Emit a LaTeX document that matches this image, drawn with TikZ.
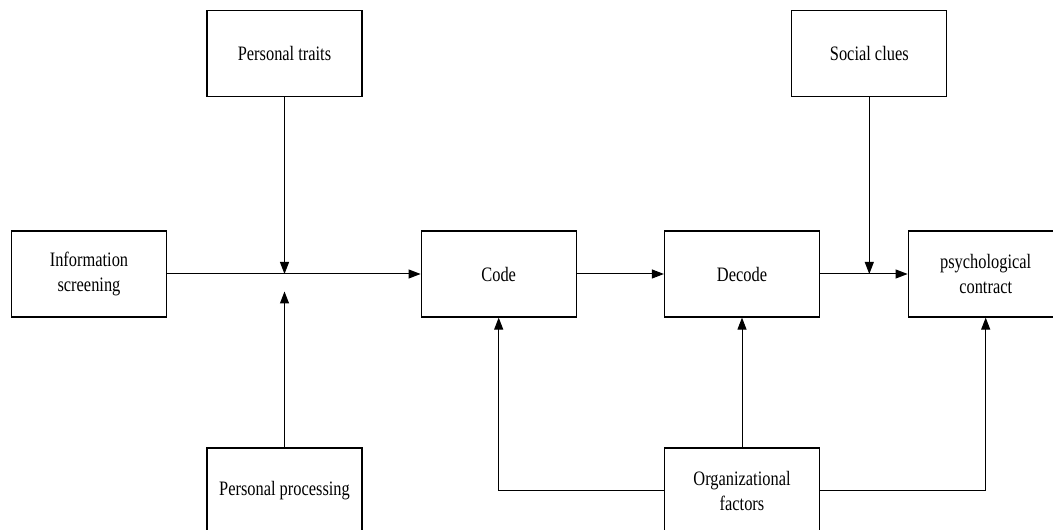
\documentclass[tikz,border=0pt]{standalone}
\usepackage{fontspec}
\setmainfont[FakeStretch=0.8]{Liberation Serif}
\usetikzlibrary{arrows.meta}

\tikzset{
	box/.style = {draw = black, line width = 1.2pt, minimum width = 155pt, minimum height = 86pt, align = center, inner sep = 0pt, font = \fontsize{20.5}{25}\selectfont},
	link/.style = {-{Triangle[length = 12pt, width = 9pt]}, line width = 1pt}
}

\begin{document}
\begin{tikzpicture}[x = 1pt, y = 1pt]
	\useasboundingbox (0, 0) rectangle (1053, 530);
	
	% boxes
	\node [box] (info) at (89, 256) {Information\\screening};
	\node [box] (traits) at (284.5, 476.5) {Personal traits};
	\node [box] (proc) at (284.5, 39) {Personal processing};
	\node [box] (code) at (498.7, 256) {Code};
	\node [box] (decode) at (742, 256) {Decode};
	\node [box] (psych) at (985.7, 256) {psychological\\contract};
	\node [box] (social) at (869.3, 476.5) {Social clues};
	\node [box] (org) at (742, 39) {Organizational\\factors};
	
	% junctions
	\coordinate (jtop) at (284.5, 256);
	\coordinate (jbot) at (284.5, 238.5);
	\coordinate (jsoc) at (869.3, 256);
	
	% main line
	\draw [link] (info.east) -- (code.west);
	\draw [link] (code.east) -- (decode.west);
	\draw [link] (decode.east) -- (psych.west);
	
	% influences
	\draw [link] (traits.south) -- (jtop);
	\draw [link] (proc.north) -- (jbot);
	\draw [link] (social.south) -- (jsoc);
	
	% organizational factors
	\draw [link] (org.west) -| (code.south);
	\draw [link] (org.north) -- (decode.south);
	\draw [link] (org.east) -| (psych.south);
\end{tikzpicture}
\end{document}
